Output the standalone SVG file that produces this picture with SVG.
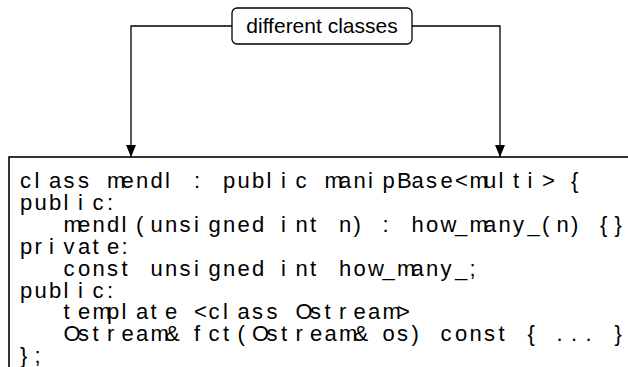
<svg xmlns="http://www.w3.org/2000/svg" width="628" height="367" viewBox="0 0 628 367">
<style>
.code{font-family:"Liberation Sans",Arial,sans-serif;font-size:22px;fill:#000}
.lbl{font-family:"Liberation Sans",Arial,sans-serif;font-size:21px;fill:#000;text-anchor:middle}
.edge{fill:none;stroke:#000;stroke-width:1.3}
</style>
<defs>
<marker id="arr" markerUnits="userSpaceOnUse" markerWidth="12" markerHeight="10" refX="12" refY="5" orient="auto">
<path d="M0,0 L12,5 L0,10 z" fill="#000"/>
</marker>
</defs>
<g id="connectors">
<path class="edge" d="M232,26 H131 V157" marker-end="url(#arr)"/>
<path class="edge" d="M412,26 H500 V157" marker-end="url(#arr)"/>
</g>
<g id="label">
<rect x="232" y="8" width="180" height="36" rx="5" fill="#fff" stroke="#000" stroke-width="1.3"/>
<text class="lbl" x="322" y="33">different classes</text>
</g>
<g id="code-box">
<rect x="9" y="157" width="700" height="300" fill="#fff" stroke="#000" stroke-width="1.6"/>
<text class="code" y="188" x="20 34.5 49 63.5 78 92.5 107 121.5 136 150.5 165 179.5 194 208.5 223 237.5 252 266.5 281 295.5 310 324.5 339 353.5 368 382.5 397 411.5 426 440.5 455 469.5 484 498.5 513 527.5 542 556.5 571 585.5 600 614.5">class mendl : public manipBase&lt;multi&gt; {</text>
<text class="code" y="209.9" x="20 34.5 49 63.5 78 92.5 107 121.5">public:</text>
<text class="code" y="231.8" x="63.5 78 92.5 107 121.5 136 150.5 165 179.5 194 208.5 223 237.5 252 266.5 281 295.5 310 324.5 339 353.5 368 382.5 397 411.5 426 440.5 455 469.5 484 498.5 513 527.5 542 556.5 571 585.5 600 614.5">mendl(unsigned int n) : how_many_(n) {}</text>
<text class="code" y="253.7" x="20 34.5 49 63.5 78 92.5 107 121.5">private:</text>
<text class="code" y="275.6" x="63.5 78 92.5 107 121.5 136 150.5 165 179.5 194 208.5 223 237.5 252 266.5 281 295.5 310 324.5 339 353.5 368 382.5 397 411.5 426 440.5 455 469.5 484 498.5 513 527.5 542 556.5 571 585.5 600 614.5">const unsigned int how_many_;</text>
<text class="code" y="297.5" x="20 34.5 49 63.5 78 92.5 107 121.5">public:</text>
<text class="code" y="319.4" x="63.5 78 92.5 107 121.5 136 150.5 165 179.5 194 208.5 223 237.5 252 266.5 281 295.5 310 324.5 339 353.5 368 382.5 397 411.5 426 440.5 455 469.5 484 498.5 513 527.5 542 556.5 571 585.5 600 614.5">template &lt;class Ostream&gt;</text>
<text class="code" y="341.3" x="63.5 78 92.5 107 121.5 136 150.5 165 179.5 194 208.5 223 237.5 252 266.5 281 295.5 310 324.5 339 353.5 368 382.5 397 411.5 426 440.5 455 469.5 484 498.5 513 527.5 542 556.5 571 585.5 600 614.5">Ostream&amp; fct(Ostream&amp; os) const { ... }</text>
<text class="code" y="363.2" x="20 34.5 49 63.5">};</text>
</g>
</svg>
